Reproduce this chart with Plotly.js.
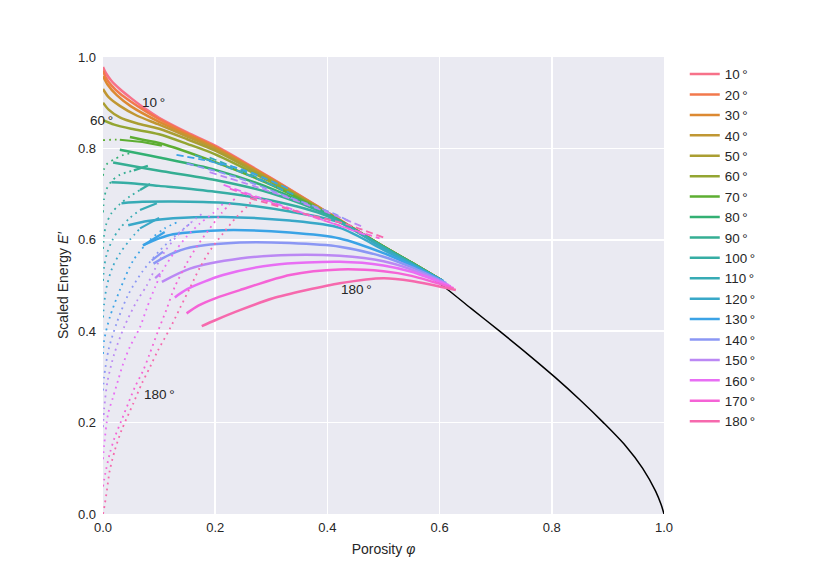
<!DOCTYPE html>
<html>
<head>
<meta charset="utf-8">
<script src="https://cdn.plot.ly/plotly-3.0.1.min.js"></script>
<style>
  body { margin: 0; background: #ffffff; }
  #energy-graph { width: 830px; height: 571px; }
</style>
</head>
<body>
<div id="energy-graph"></div>
<script>
// Константы
const GRAPH_ELEM_ID = "energy-graph";

const angles = [10, 20, 30, 40, 50, 60, 70, 80, 90, 100, 110, 120, 130, 140, 150, 160, 170, 180];

const colors = [
  "#f77189", "#f2794c", "#dc8932", "#c09733", "#aa9e32", "#93a532",
  "#5dae32", "#33b073", "#35ae93", "#36ada4", "#37abb5", "#39a8c8",
  "#3ba3e6", "#8b97f4", "#bb88f4", "#e86ef4", "#f563d6", "#f669ad",
];

// Устойчивая ветвь (сплошные линии), точки [phi, E]
const solid10 = [[0, 0.978], [0.005, 0.965], [0.015, 0.948], [0.03, 0.93], [0.05, 0.91], [0.075, 0.887], [0.1, 0.867], [0.15, 0.835], [0.2, 0.806], [0.3, 0.735], [0.4, 0.66], [0.5, 0.585], [0.55, 0.55], [0.603, 0.512]];
const solid20 = [[0, 0.97], [0.005, 0.955], [0.015, 0.938], [0.03, 0.92], [0.05, 0.902], [0.075, 0.882], [0.1, 0.864], [0.15, 0.833], [0.2, 0.804], [0.3, 0.734], [0.4, 0.66], [0.5, 0.585], [0.55, 0.55], [0.603, 0.512]];
const solid30 = [[0, 0.958], [0.008, 0.94], [0.025, 0.916], [0.05, 0.892], [0.1, 0.858], [0.15, 0.83], [0.2, 0.802], [0.3, 0.733], [0.4, 0.659], [0.5, 0.585], [0.55, 0.55], [0.603, 0.512]];
const solid40 = [[0, 0.93], [0.01, 0.912], [0.03, 0.893], [0.06, 0.872], [0.1, 0.852], [0.15, 0.826], [0.2, 0.799], [0.3, 0.731], [0.4, 0.659], [0.5, 0.585], [0.55, 0.55], [0.603, 0.512]];
const solid50 = [[0, 0.9], [0.01, 0.885], [0.03, 0.868], [0.06, 0.855], [0.1, 0.843], [0.15, 0.82], [0.2, 0.795], [0.3, 0.729], [0.4, 0.658], [0.5, 0.585], [0.55, 0.55], [0.603, 0.512]];
const solid60 = [[0, 0.862], [0.02, 0.852], [0.05, 0.843], [0.1, 0.831], [0.15, 0.81], [0.2, 0.787], [0.3, 0.726], [0.4, 0.658], [0.5, 0.585], [0.55, 0.55], [0.603, 0.512]];
const solid70 = [[0.048, 0.825], [0.075, 0.818], [0.1, 0.812], [0.2, 0.77], [0.3, 0.72], [0.4, 0.657], [0.5, 0.585], [0.55, 0.55], [0.603, 0.512]];
const solid80 = [[0.03, 0.797], [0.06, 0.79], [0.1, 0.78], [0.2, 0.753], [0.3, 0.712], [0.4, 0.656], [0.5, 0.585], [0.55, 0.55], [0.603, 0.512]];
const solid90 = [[0.018, 0.769], [0.05, 0.762], [0.1, 0.751], [0.2, 0.731], [0.3, 0.702], [0.4, 0.655], [0.5, 0.584], [0.55, 0.549], [0.603, 0.512]];
const solid100 = [[0.015, 0.726], [0.05, 0.724], [0.1, 0.718], [0.2, 0.705], [0.3, 0.686], [0.4, 0.652], [0.5, 0.583], [0.55, 0.548], [0.607, 0.509]];
const solid110 = [[0.033, 0.68], [0.07, 0.683], [0.125, 0.684], [0.214, 0.681], [0.333, 0.662], [0.422, 0.638], [0.5, 0.582], [0.55, 0.547], [0.607, 0.509]];
const solid120 = [[0.045, 0.632], [0.08, 0.641], [0.125, 0.647], [0.214, 0.65], [0.333, 0.642], [0.422, 0.626], [0.5, 0.578], [0.55, 0.546], [0.607, 0.509]];
const solid130 = [[0.071, 0.588], [0.1, 0.603], [0.125, 0.612], [0.214, 0.621], [0.333, 0.616], [0.422, 0.603], [0.5, 0.571], [0.55, 0.544], [0.607, 0.509]];
const solid140 = [[0.09, 0.548], [0.12, 0.568], [0.155, 0.583], [0.244, 0.594], [0.333, 0.593], [0.422, 0.585], [0.5, 0.563], [0.55, 0.54], [0.612, 0.505]];
const solid150 = [[0.105, 0.508], [0.155, 0.537], [0.244, 0.559], [0.333, 0.567], [0.422, 0.565], [0.5, 0.553], [0.55, 0.535], [0.616, 0.501]];
const solid160 = [[0.128, 0.474], [0.15, 0.492], [0.214, 0.523], [0.303, 0.545], [0.422, 0.552], [0.5, 0.544], [0.55, 0.53], [0.62, 0.498]];
const solid170 = [[0.149, 0.439], [0.17, 0.456], [0.2, 0.472], [0.244, 0.49], [0.333, 0.523], [0.422, 0.535], [0.5, 0.531], [0.55, 0.521], [0.625, 0.494]];
const solid180 = [[0.176, 0.411], [0.2, 0.424], [0.244, 0.446], [0.303, 0.472], [0.363, 0.49], [0.422, 0.505], [0.5, 0.516], [0.55, 0.51], [0.629, 0.49]];

// Короткие "крючки" у начала сплошных линий
const hook70 = [[0.03, 0.819], [0.07, 0.814], [0.105, 0.806]];
const hook90 = [[0.055, 0.752], [0.08, 0.762]];
const hook100 = [[0.066, 0.709], [0.084, 0.722]];
const hook110 = [[0.066, 0.665], [0.096, 0.68]];
const hook120 = [[0.066, 0.625], [0.1, 0.648]];
const hook130 = [[0.072, 0.588], [0.11, 0.617]];
const hook140 = [[0.087, 0.555], [0.107, 0.574]];
const hook150 = [[0.093, 0.516], [0.102, 0.526]];

// Неустойчивая ветвь (пунктир точками)
const dot70 = [[0, 0.818], [0.015, 0.819], [0.03, 0.819]];
const dot80 = [[0, 0.74], [0.002, 0.755], [0.008, 0.767], [0.02, 0.776], [0.035, 0.785], [0.05, 0.79]];
const dot90 = [[0, 0.66], [0.002, 0.69], [0.006, 0.71], [0.015, 0.728], [0.03, 0.742], [0.055, 0.752]];
const dot100 = [[0, 0.58], [0.002, 0.61], [0.006, 0.635], [0.015, 0.658], [0.03, 0.678], [0.048, 0.695], [0.066, 0.709]];
const dot110 = [[0, 0.51], [0.002, 0.54], [0.007, 0.57], [0.017, 0.6], [0.03, 0.625], [0.048, 0.648], [0.066, 0.665]];
const dot120 = [[0, 0.43], [0.002, 0.46], [0.007, 0.5], [0.017, 0.54], [0.03, 0.57], [0.048, 0.6], [0.066, 0.625]];
const dot130 = [[0, 0.35], [0.002, 0.38], [0.012, 0.43], [0.03, 0.49], [0.054, 0.555], [0.084, 0.6], [0.11, 0.625], [0.135, 0.64]];
const dot140 = [[0, 0.27], [0.002, 0.3], [0.01, 0.36], [0.025, 0.42], [0.045, 0.48], [0.07, 0.53], [0.1, 0.575], [0.13, 0.61], [0.16, 0.64]];
const dot150 = [[0, 0.19], [0.002, 0.23], [0.008, 0.29], [0.02, 0.35], [0.038, 0.41], [0.06, 0.465], [0.078, 0.5], [0.093, 0.537], [0.11, 0.574], [0.131, 0.607], [0.155, 0.636], [0.18, 0.66]];
const dot160 = [[0, 0.12], [0.002, 0.15], [0.009, 0.219], [0.018, 0.256], [0.027, 0.293], [0.036, 0.329], [0.048, 0.366], [0.066, 0.409], [0.078, 0.45], [0.093, 0.497], [0.107, 0.534], [0.128, 0.574], [0.149, 0.607], [0.173, 0.636], [0.196, 0.658], [0.215, 0.68]];
const dot170 = [[0, 0.06], [0.004, 0.088], [0.012, 0.132], [0.021, 0.168], [0.033, 0.205], [0.045, 0.242], [0.057, 0.278], [0.072, 0.315], [0.083, 0.35], [0.098, 0.4], [0.113, 0.447], [0.128, 0.497], [0.149, 0.548], [0.167, 0.585], [0.188, 0.621], [0.211, 0.658], [0.235, 0.69]];
const dot180 = [[0, 0], [0.003, 0.02], [0.007, 0.052], [0.012, 0.095], [0.021, 0.139], [0.033, 0.183], [0.054, 0.242], [0.069, 0.285], [0.084, 0.322], [0.098, 0.358], [0.119, 0.405], [0.137, 0.45], [0.155, 0.495], [0.173, 0.54], [0.191, 0.577], [0.214, 0.614], [0.238, 0.65], [0.256, 0.672], [0.266, 0.686]];

// Промежуточная ветвь (штрихи)
const dash110 = [[0.19, 0.78], [0.26, 0.745], [0.321, 0.708]];
const dash120 = [[0.164, 0.785], [0.25, 0.746], [0.342, 0.698]];
const dash130 = [[0.131, 0.786], [0.19, 0.772], [0.253, 0.752], [0.33, 0.712]];
const dash140 = [[0.149, 0.767], [0.235, 0.738], [0.33, 0.694], [0.41, 0.658], [0.44, 0.64]];
const dash150 = [[0.19, 0.748], [0.3, 0.705], [0.4, 0.66], [0.46, 0.63]];
const dash160 = [[0.215, 0.72], [0.33, 0.67], [0.47, 0.61]];
const dash170 = [[0.226, 0.712], [0.35, 0.66], [0.493, 0.603]];
const dash180 = [[0.262, 0.691], [0.36, 0.657], [0.434, 0.634], [0.5, 0.605]];

// Чёрная кривая
const limitCurve = [[0.582, 0.52], [0.605, 0.5], [0.656, 0.45], [0.707, 0.4], [0.757, 0.35], [0.805, 0.3], [0.85, 0.25], [0.892, 0.2], [0.931, 0.15], [0.962, 0.1], [0.985, 0.05], [0.995, 0.02], [1.0, 0.0]];

const solids = [solid10, solid20, solid30, solid40, solid50, solid60, solid70, solid80, solid90, solid100, solid110, solid120, solid130, solid140, solid150, solid160, solid170, solid180];
const hooks = { 70: hook70, 90: hook90, 100: hook100, 110: hook110, 120: hook120, 130: hook130, 140: hook140, 150: hook150 };
const dots = { 70: dot70, 80: dot80, 90: dot90, 100: dot100, 110: dot110, 120: dot120, 130: dot130, 140: dot140, 150: dot150, 160: dot160, 170: dot170, 180: dot180 };
const dashes = { 110: dash110, 120: dash120, 130: dash130, 140: dash140, 150: dash150, 160: dash160, 170: dash170, 180: dash180 };

const FONT = "Liberation Sans, Arial, sans-serif";
const TEXT_COLOR = "#262626";

/**
 * @description Создаёт линию из списка точек [phi, E]
 */
function makeTrace(points, color, width, dash, name, showlegend, smooth) {
  return {
    x: points.map((p) => p[0]),
    y: points.map((p) => p[1]),
    mode: "lines",
    type: "scatter",
    name: name,
    showlegend: showlegend,
    hoverinfo: "skip",
    line: {
      color: color,
      width: width,
      dash: dash,
      shape: smooth ? "spline" : "linear",
      smoothing: 0.8,
    },
  };
}

let traces = [];

traces.push(makeTrace(limitCurve, "#000000", 1.5, "solid", "limit", false, true));

for (const [idx, angle] of angles.entries()) {
  const color = colors[idx];
  const label = `${angle}\u2009°`;

  if (dots[angle]) {
    traces.push(makeTrace(dots[angle], color, 1.8, "1.8px,4.2px", label, false, true));
  }
  if (dashes[angle]) {
    traces.push(makeTrace(dashes[angle], color, 1.8, "7px,4px", label, false, true));
  }
  if (hooks[angle]) {
    traces.push(makeTrace(hooks[angle], color, 2.2, "solid", label, false, false));
  }
  traces.push(makeTrace(solids[idx], color, 2.5, "solid", label, true, true));
}

// Подписи на графике (в долях области графика = значения осей, диапазон 0..1)
const labelFont = { family: FONT, size: 13.5, color: TEXT_COLOR };
const annotations = [
  { x: 0.066, y: 0.9, text: "10\u2009°" },
  { x: -0.026, y: 0.86, text: "60\u2009°" },
  { x: 0.421, y: 0.492, text: "180\u2009°" },
  { x: 0.069, y: 0.262, text: "180\u2009°" },
].map((a) => ({
  x: a.x,
  y: a.y,
  text: a.text,
  xref: "paper",
  yref: "paper",
  xanchor: "left",
  yanchor: "middle",
  showarrow: false,
  font: labelFont,
}));

const axisCommon = {
  range: [0, 1],
  dtick: 0.2,
  tick0: 0,
  tickformat: ".1f",
  showgrid: true,
  gridcolor: "#ffffff",
  gridwidth: 1.6,
  zeroline: false,
  showline: false,
  ticks: "",
  tickfont: { family: FONT, size: 13, color: TEXT_COLOR },
  fixedrange: true,
};

const layout = {
  width: 830,
  height: 571,
  margin: { l: 103, r: 166, t: 57, b: 57 },
  paper_bgcolor: "#ffffff",
  plot_bgcolor: "#eaeaf2",
  font: { family: FONT, color: TEXT_COLOR },
  showlegend: true,
  legend: {
    x: 1.037,
    y: 0.996,
    xanchor: "left",
    yanchor: "top",
    bgcolor: "rgba(0,0,0,0)",
    borderwidth: 0,
    font: { family: FONT, size: 13.4, color: TEXT_COLOR },
    traceorder: "normal",
  },
  xaxis: Object.assign({}, axisCommon, {
    title: { text: "Porosity <i>φ</i>", font: { family: FONT, size: 14, color: TEXT_COLOR }, standoff: 10 },
    ticklabelstandoff: 4,
  }),
  yaxis: Object.assign({}, axisCommon, {
    title: { text: "Scaled Energy <i>E′</i>", font: { family: FONT, size: 14, color: TEXT_COLOR }, standoff: 6 },
    ticklabelstandoff: 6,
  }),
  annotations: annotations,
};

const config = { responsive: false, displayModeBar: false, staticPlot: true };

Plotly.newPlot(GRAPH_ELEM_ID, traces, layout, config);
</script>
</body>
</html>
